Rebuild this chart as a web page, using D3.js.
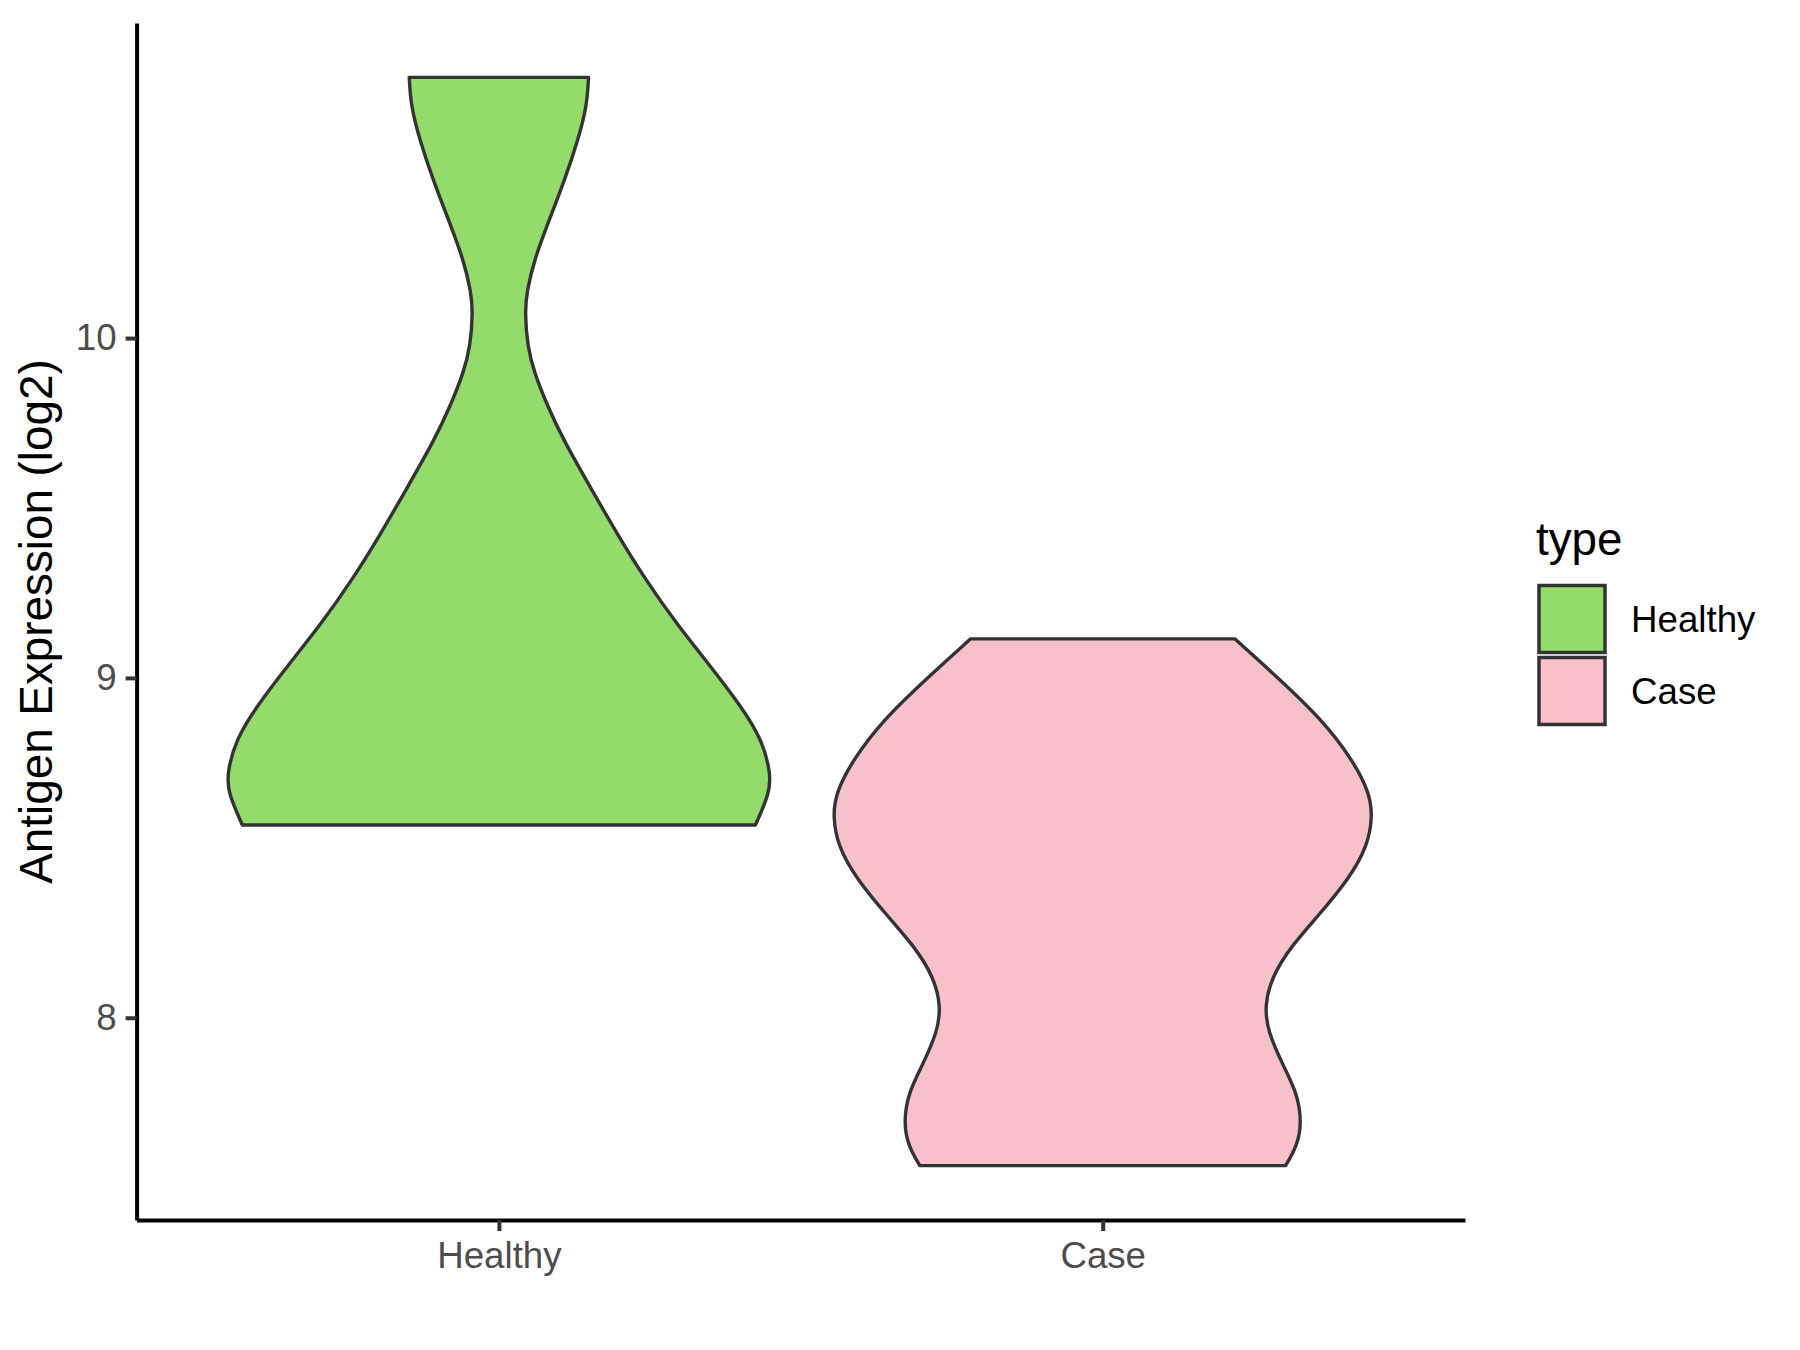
<!DOCTYPE html>
<html><head><meta charset="utf-8">
<script src="https://cdn.jsdelivr.net/npm/d3@7"></script>
<style>body{margin:0;background:#fff}text{font-family:"Liberation Sans",Arial,sans-serif}</style>
</head><body><svg id="c" width="1800" height="1350"></svg>
<script>
const categories = ["Healthy", "Case"];
const fillColors = ["#93DB6A", "#F7C0CA"];
const yTicks = [8, 9, 10];
// violin outline: y values (log2) and relative density (1 = widest)
const healthyY = [10.767, 10.683, 10.585, 10.467, 10.349, 10.231, 10.134, 10.075, 9.976, 9.898, 9.800, 9.702, 9.555, 9.417, 9.290, 9.162, 9.035, 8.917, 8.819, 8.721, 8.662, 8.567];
const healthyDensity = [0.330, 0.324, 0.292, 0.243, 0.186, 0.130, 0.102, 0.096, 0.105, 0.130, 0.179, 0.236, 0.341, 0.440, 0.539, 0.651, 0.778, 0.891, 0.968, 1.000, 0.997, 0.944];
const caseY = [9.115, 8.996, 8.878, 8.760, 8.662, 8.593, 8.505, 8.407, 8.299, 8.211, 8.122, 8.034, 7.956, 7.858, 7.780, 7.691, 7.622, 7.565];
const caseDensity = [0.486, 0.651, 0.806, 0.919, 0.982, 0.993, 0.975, 0.905, 0.792, 0.694, 0.623, 0.595, 0.609, 0.665, 0.715, 0.733, 0.715, 0.673];

const svg = d3.select("#c");
const L = 136.6, R = 1465, T = 23, B = 1220;
const allY = healthyY.concat(caseY);
const ymin = d3.min(allY), ymax = d3.max(allY), pad = (ymax - ymin) * 0.05;
const y = d3.scaleLinear().domain([ymin - pad, ymax + pad]).range([B, T]);
const x = d3.scalePoint().domain(categories).range([L, R]).padding(0.6);
const w = d3.scaleLinear().domain([0, 1]).range([0, 0.45 * x.step()]);

const violins = [
  {cat: "Healthy", ys: healthyY, ds: healthyDensity},
  {cat: "Case", ys: caseY, ds: caseDensity}
];
violins.forEach((v, i) => {
  const pts = v.ys.map((yy, k) => ({y: yy, d: v.ds[k]}));
  const cx = x(v.cat);
  const area = d3.area()
    .y(p => y(p.y))
    .x0(p => cx - w(p.d))
    .x1(p => cx + w(p.d))
    .curve(d3.curveBasis);
  svg.append("path").datum(pts).attr("d", area)
    .attr("fill", fillColors[i]).attr("stroke", "#333333")
    .attr("stroke-width", 3.4).attr("stroke-linejoin", "round");
});

// axes
const yAxis = svg.append("g").attr("transform", `translate(${L},0)`)
  .call(d3.axisLeft(y).tickValues(yTicks).tickSize(11).tickSizeOuter(0).tickPadding(9).tickFormat(d3.format("d")));
const xAxis = svg.append("g").attr("transform", `translate(0,${B})`)
  .call(d3.axisBottom(x).tickSize(11).tickSizeOuter(0).tickPadding(9));
[yAxis, xAxis].forEach(g => {
  g.select(".domain").attr("stroke", "#000").attr("stroke-width", 4);
  g.selectAll(".tick line").attr("stroke", "#333333").attr("stroke-width", 4);
  g.selectAll(".tick text").attr("fill", "#4D4D4D").attr("font-size", 36.7)
    .attr("font-family", '"Liberation Sans", Arial, sans-serif');
});
xAxis.selectAll(".tick text").attr("dy", "0.75em");

svg.append("text").attr("transform", `translate(52,${(T + B) / 2}) rotate(-90)`)
  .attr("text-anchor", "middle").attr("font-size", 45.8).attr("fill", "#000")
  .text("Antigen Expression (log2)");

// legend
const lg = svg.append("g");
lg.append("text").attr("x", 1536).attr("y", 555).attr("font-size", 45.8).attr("fill", "#000").text("type");
categories.forEach((c, i) => {
  const yy = 584 + i * 72;
  lg.append("rect").attr("x", 1539).attr("y", yy + 1.5).attr("width", 66).attr("height", 67)
    .attr("fill", fillColors[i]).attr("stroke", "#333333").attr("stroke-width", 3.5);
  lg.append("text").attr("x", 1631).attr("y", yy + 35).attr("dy", "0.35em")
    .attr("font-size", 36.7).attr("fill", "#000").text(c);
});
</script></body></html>
